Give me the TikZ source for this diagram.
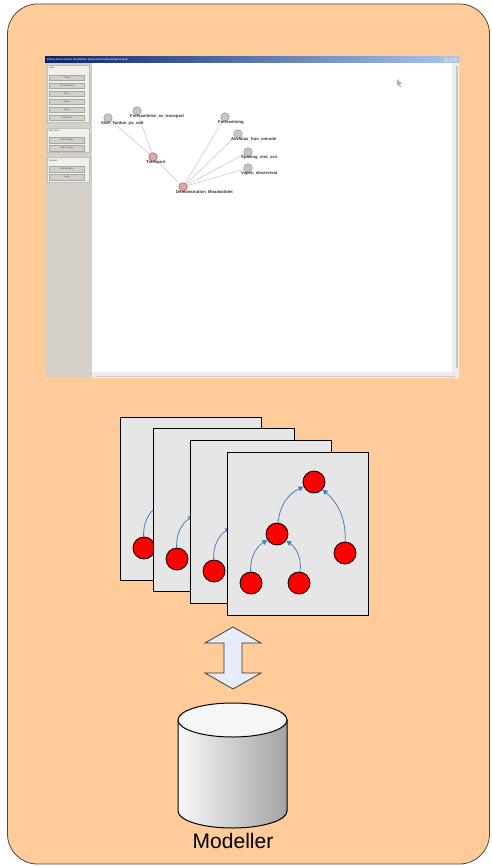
\documentclass[tikz,border=0pt]{standalone}
\usepackage{fontspec}
\setmainfont{Liberation Sans}
\usetikzlibrary{arrows.meta,positioning}
\definecolor{mpeach}{HTML}{FFCB98}
\definecolor{mframe}{HTML}{4A4A4A}
\definecolor{wpanel}{HTML}{D4D0C8}
\definecolor{wgroup}{HTML}{F1EFEA}
\definecolor{wnavy}{HTML}{0A246A}
\definecolor{wmid}{HTML}{4A6EA8}
\definecolor{wsky}{HTML}{A9C8EE}
\definecolor{ncard}{HTML}{E6E6E6}
\definecolor{nedge}{HTML}{4A7EBB}
\definecolor{nlink}{HTML}{E6ECF8}

\begin{document}
\begin{tikzpicture}[x=1pt,y=-1pt,
  bnnode/.style={circle,draw=gray!85,fill=gray!45,minimum size=8.5pt,inner sep=0pt,line width=0.5pt},
  bnhot/.style={bnnode,draw=red!45!gray,fill=red!30!gray!50},
  bnlabel/.style={font=\fontsize{4.2}{5}\selectfont\bfseries,inner sep=0pt,text=black!80},
  bnedge/.style={gray!40,line width=0.6pt},
  wbtn/.style={draw=gray!70,fill=wpanel,minimum width=35pt,minimum height=5.5pt,inner sep=0pt,
    font=\fontsize{2.3}{3}\selectfont,text=black!70},
  wgrp/.style={draw=gray!50,fill=wgroup,line width=0.3pt},
  wtitle/.style={font=\fontsize{2.3}{3}\selectfont,text=black!70,inner sep=0pt,anchor=west},
  card/.style={draw=black,fill=ncard,line width=0.8pt},
  tnode/.style={circle,draw=black,fill=red,minimum size=22pt,inner sep=0pt,line width=0.8pt},
  tedge/.style={nedge,line width=0.8pt,-{Triangle[length=5pt,width=5pt]}}]
 \useasboundingbox (0,0) rectangle (491,866);
 \draw[mframe,fill=mpeach,line width=0.8pt,rounded corners=30pt] (7.5,4) rectangle (489.5,864);
 % screenshot of the network editor
 \shade[left color=wnavy,middle color=wmid,right color=wsky] (45,57) rectangle (459,63.5);
 \node[font=\fontsize{2.6}{3}\selectfont,text=white,inner sep=0pt,anchor=west] (wintitle) at (47,60.2)
  {Editing demonstration Mnadsbildet (data/networks/Mnadsbildet.bayes)};
 \foreach \bx in {446,450.5,455}
  \fill[wpanel] (\bx-1.8,58.2) rectangle (\bx+1.8,62.2);
 \fill[wpanel] (45,63.5) rectangle (92,378);
 \fill[white] (92,63.5) rectangle (452,372);
 \fill[gray!15] (452,63.5) rectangle (459,372);
 \fill[gray!45] (455.5,66) rectangle (457.5,368);
 \fill[gray!15] (92,372) rectangle (459,378);
 \fill[gray!40] (96,376) rectangle (455,377);
 \draw[wgrp] (47,65) rectangle (89,122);
 \draw[wgrp] (47,128) rectangle (89,152);
 \draw[wgrp] (47,157) rectangle (89,182);
 \node[wtitle] (gnode) at (49,68) {Node};
 \node[wtitle] (gedit) at (49,131) {Edit Node};
 \node[wtitle] (gnet) at (49,160.5) {Network};
 \foreach \lbl [count=\i] in {Create,Set Indicators,Move,Delete,Query,Distance}
  \node[wbtn] (b\i) at (67,69.5+8*\i) {\lbl};
 \node[wbtn] (e1) at (67,140) {Edit Variable};
 \node[wbtn] (e2) at (67,148) {Edit Function};
 \node[wbtn] (n1) at (67,169) {Edit Network};
 \node[wbtn] (n2) at (67,177) {Save};
 \node[bnnode] (start) at (108,118) {};
 \node[bnnode] (fort) at (137,111) {};
 \node[bnhot] (trans) at (153,157) {};
 \node[bnhot] (demo) at (183,187) {};
 \node[bnnode] (fsat) at (225,117) {};
 \node[bnnode] (avsl) at (238,134) {};
 \node[bnnode] (span) at (248,152) {};
 \node[bnnode] (vapen) at (248,168) {};
 \foreach \a/\b in {start/trans,fort/trans,trans/demo,demo/fsat,demo/avsl,demo/span,demo/vapen}
  \draw[bnedge] (\a) -- (\b);
 \node[bnlabel,below right=3pt and -7pt of start.center] {Start\_fordon\_pa\_vaft};
 \node[bnlabel,below right=3pt and -7pt of fort.center] {Fortsaettelse\_av\_transport};
 \node[bnlabel,below right=3pt and -7pt of trans.center] {Transport};
 \node[bnlabel,below right=3pt and -7pt of demo.center] {Demonstration\_Mnadsbildet};
 \node[bnlabel,below right=3pt and -7pt of fsat.center] {Fortsaetning};
 \node[bnlabel,below right=3pt and -7pt of avsl.center] {Avslutas\_fran\_omrade};
 \node[bnlabel,below right=3pt and -7pt of span.center] {Spaning\_mot\_oss};
 \node[bnlabel,below right=3pt and -7pt of vapen.center] {Vapen\_observerat};
 \fill[gray!60] (397,79) -- (397,86) -- (398.6,84.4) -- (400,87) -- (401,86.5) -- (399.8,84) -- (402,84) -- cycle;
 % stack of networks
 \foreach \cx/\cy [count=\i] in {120/417,153/428,190/440,227/452}{
  \begin{scope}[shift={(\cx,\cy)}]
   \draw[card] (0,0) rectangle (141,163);
   \node[tnode] (t\i) at (87,30) {};
   \node[tnode] (m\i) at (50,82) {};
   \node[tnode] (r\i) at (118,101) {};
   \node[tnode] (bl\i) at (24,131) {};
   \node[tnode] (br\i) at (72,131) {};
   \draw[tedge] (m\i) to[bend left=30] (t\i);
   \draw[tedge] (r\i) to[bend right=25] (t\i);
   \draw[tedge] (bl\i) to[bend left=30] (m\i);
   \draw[tedge] (br\i) to[bend right=30] (m\i);
  \end{scope}
 }
 % link to the model store
 \draw[black!80,fill=nlink,line width=0.7pt] (233,627) -- (261,643) -- (242,643) -- (242,673) -- (261,673)
  -- (233,689) -- (205,673) -- (224,673) -- (224,643) -- (205,643) -- cycle;
 \shade[left color=gray!5,right color=gray!72,draw=black,line width=1pt] (178,720) -- (178,811)
  arc[start angle=180,end angle=360,x radius=54.5pt,y radius=17pt] -- (287,720) -- cycle;
 \draw[black,fill=gray!7,line width=1pt] (232.5,720) ellipse[x radius=54.5pt,y radius=17pt];
 \node[font=\fontsize{21}{24}\selectfont,inner sep=0pt] (modeller) at (233,841) {Modeller};
\end{tikzpicture}
\end{document}
